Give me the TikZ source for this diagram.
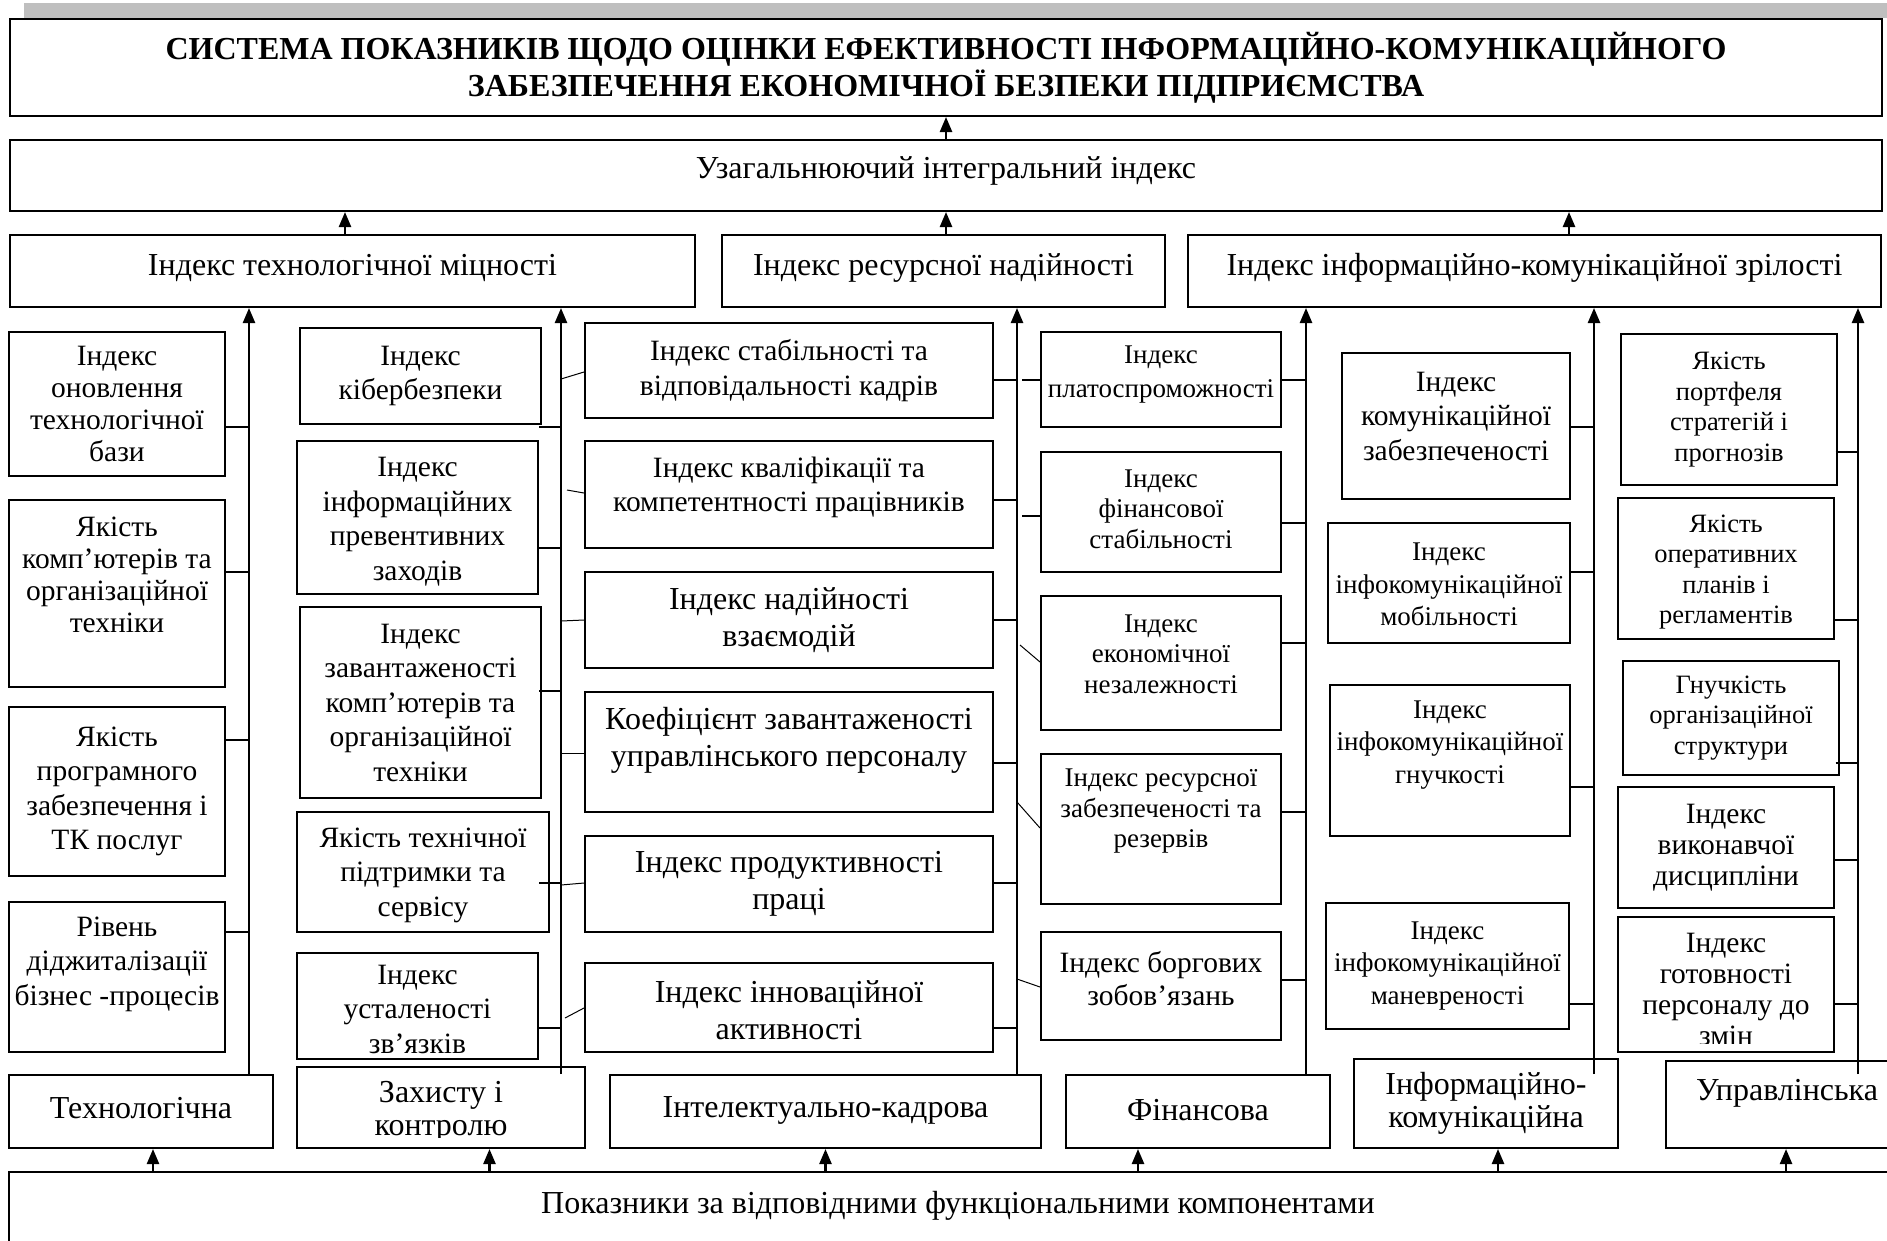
\documentclass[tikz,border=0pt]{standalone}
\usepackage{fontspec}
\setmainfont{Liberation Serif}
\usetikzlibrary{arrows.meta}

\begin{document}
\begin{tikzpicture}[
									x = 1pt,
									y = -1pt,
									box/.style = {
										draw,
										rectangle,
										line width = 2pt,
										inner sep = 0
									},
									tx/.style = {
										align = center,
										inner sep = 0,
										font = \fontsize{29.5}{32}\selectfont
									},
									txw/.style = {
										tx,
										font = \fontsize{29.5}{34.5}\selectfont
									},
									txl/.style = {
										tx,
										font = \fontsize{32}{36.7}\selectfont
									},
									txs/.style = {
										tx,
										font = \fontsize{27}{30.5}\selectfont
									},
									hd/.style = {
										tx,
										font = \bfseries\fontsize{32}{36.7}\selectfont
									},
									ln/.style = {
										line width = 2.4pt
									},
									ar/.style = {
										ln,
										-{Triangle[length = 15pt, width = 12pt]}
									},
									fine/.style = {
										line width = 1pt
									}
								]
							\useasboundingbox (0, 0) rectangle (1887, 1240);
							\clip (0, 0) rectangle (1887, 1240);
							\fill [gray!50] (24, 3) rectangle (1887, 18);

							\coordinate (v1) at ( 249, 0);
							\coordinate (v2) at ( 561, 0);
							\coordinate (v3) at (1017, 0);
							\coordinate (v4) at (1306, 0);
							\coordinate (v5) at (1594, 0);
							\coordinate (v6) at (1858, 0);

							\node [box, minimum width = 1872pt, minimum height = 97pt] (top) at (946, 67.5) {};
							\node [hd] (top-t) at (top) {СИСТЕМА ПОКАЗНИКІВ ЩОДО ОЦІНКИ ЕФЕКТИВНОСТІ ІНФОРМАЦІЙНО-КОМУНІКАЦІЙНОГО\\ЗАБЕЗПЕЧЕННЯ ЕКОНОМІЧНОЇ БЕЗПЕКИ ПІДПРИЄМСТВА};

							\node [box, minimum width = 1872pt, minimum height = 71pt] (r0) at (946, 175.5) {};
							\node [txl] (r0-t) at ([yshift = 4.5pt] r0) {Узагальнюючий інтегральний індекс};

							\node [box, minimum width = 685pt, minimum height = 72pt] (r1) at ( 352.5, 271) {};
							\node [box, minimum width = 443pt, minimum height = 72pt] (r2) at ( 943.5, 271) {};
							\node [box, minimum width = 693pt, minimum height = 72pt] (r3) at (1534.5, 271) {};
							\node [txl] (r1-t) at ([yshift = 3.5pt] r1) {Індекс технологічної міцності};
							\node [txl] (r2-t) at ([yshift = 3.5pt] r2) {Індекс ресурсної надійності};
							\node [txl] (r3-t) at ([yshift = 3.5pt] r3) {Індекс інформаційно-комунікаційної зрілості};

							\node [box, minimum width = 216pt, minimum height = 144pt] (c1a) at (117,  404) {};
							\node [box, minimum width = 216pt, minimum height = 187pt] (c1b) at (117,  593.5) {};
							\node [box, minimum width = 216pt, minimum height = 169pt] (c1c) at (117,  791.5) {};
							\node [box, minimum width = 216pt, minimum height = 150pt] (c1d) at (117,  977) {};
							\node [tx] (c1a-t) at (c1a) {Індекс\\оновлення\\технологічної\\бази};
							\node [tx] (c1b-t) at ([yshift = 19pt] c1b) {Якість\\комп’ютерів та\\організаційної\\техніки};
							\node [txw] (c1c-t) at (c1c) {Якість\\програмного\\забезпечення і\\ТК послуг};
							\node [txw] (c1d-t) at ([yshift = 13pt] c1d) {Рівень\\діджиталізації\\бізнес -процесів};

							\node [box, minimum width = 241pt, minimum height =  96pt] (c2a) at (420.5,  376) {};
							\node [box, minimum width = 241pt, minimum height = 153pt] (c2b) at (417.5,  517.5) {};
							\node [box, minimum width = 241pt, minimum height = 191pt] (c2c) at (420.5,  702.5) {};
							\node [box, minimum width = 252pt, minimum height = 120pt] (c2d) at (423,    872) {};
							\node [box, minimum width = 241pt, minimum height = 106pt] (c2e) at (417.5, 1006) {};
							\node [txw] (c2a-t) at (c2a) {Індекс\\кібербезпеки};
							\node [txw] (c2b-t) at ([yshift = -4pt] c2b) {Індекс\\інформаційних\\превентивних\\заходів};
							\node [txw] (c2c-t) at (c2c) {Індекс\\завантаженості\\комп’ютерів та\\організаційної\\техніки};
							\node [txw] (c2d-t) at ([yshift = -3pt] c2d) {Якість технічної\\підтримки та\\сервісу};
							\node [txw] (c2e-t) at ([yshift = -3pt] c2e) {Індекс\\усталеності\\зв’язків};

							\node [box, minimum width = 408pt, minimum height =  95pt] (c3a) at (789,  370.5) {};
							\node [box, minimum width = 408pt, minimum height = 107pt] (c3b) at (789,  494.5) {};
							\node [box, minimum width = 408pt, minimum height =  96pt] (c3c) at (789,  620) {};
							\node [box, minimum width = 408pt, minimum height = 120pt] (c3d) at (789,  752) {};
							\node [box, minimum width = 408pt, minimum height =  96pt] (c3e) at (789,  884) {};
							\node [box, minimum width = 408pt, minimum height =  89pt] (c3f) at (789, 1007.5) {};
							\node [txw] (c3a-t) at (c3a) {Індекс стабільності та\\відповідальності кадрів};
							\node [txw] (c3b-t) at ([yshift = 7pt] c3b) {Індекс кваліфікації та\\компетентності працівників};
							\node [txl] (c3c-t) at (c3c) {Індекс надійності\\взаємодій};
							\node [txl] (c3d-t) at ([yshift = 12pt] c3d) {Коефіцієнт завантаженості\\управлінського персоналу};
							\node [txl] (c3e-t) at (c3e) {Індекс продуктивності\\праці};
							\node [txl] (c3f-t) at ([yshift = -2.5pt] c3f) {Індекс інноваційної\\активності};

							\node [box, minimum width = 240pt, minimum height =  95pt] (c4a) at (1161, 379.5) {};
							\node [box, minimum width = 240pt, minimum height = 120pt] (c4b) at (1161, 512) {};
							\node [box, minimum width = 240pt, minimum height = 134pt] (c4c) at (1161, 663) {};
							\node [box, minimum width = 240pt, minimum height = 150pt] (c4d) at (1161, 829) {};
							\node [box, minimum width = 240pt, minimum height = 108pt] (c4e) at (1161, 986) {};
							\node [txs, font = \fontsize{27}{34}\selectfont] (c4a-t) at ([yshift = 4.5pt] c4a) {Індекс\\платоспроможності};
							\node [txs] (c4b-t) at ([yshift = 3pt] c4b) {Індекс\\фінансової\\стабільності};
							\node [txs] (c4c-t) at ([yshift = 9pt] c4c) {Індекс\\економічної\\незалежності};
							\node [txs] (c4d-t) at ([yshift = 17.5pt] c4d) {Індекс ресурсної\\забезпеченості та\\резервів};
							\node [tx, font = \fontsize{29.5}{33}\selectfont] (c4e-t) at ([yshift = 7.5pt] c4e) {Індекс боргових\\зобов’язань};

							\node [box, minimum width = 228pt, minimum height = 146pt] (c5a) at (1456,   426) {};
							\node [box, minimum width = 242pt, minimum height = 120pt] (c5b) at (1449,   583) {};
							\node [box, minimum width = 240pt, minimum height = 151pt] (c5c) at (1450,   760.5) {};
							\node [box, minimum width = 243pt, minimum height = 126pt] (c5d) at (1447.5, 966) {};
							\node [txw] (c5a-t) at ([yshift = 10pt] c5a) {Індекс\\комунікаційної\\забезпеченості};
							\node [txs, font = \fontsize{27}{32.5}\selectfont] (c5b-t) at ([yshift = -1.5pt] c5b) {Індекс\\інфокомунікаційної\\мобільності};
							\node [txs, font = \fontsize{27}{32.5}\selectfont] (c5c-t) at ([yshift = 15.5pt] c5c) {Індекс\\інфокомунікаційної\\гнучкості};
							\node [txs, font = \fontsize{27}{32.5}\selectfont] (c5d-t) at (c5d) {Індекс\\інфокомунікаційної\\маневреності};

							\node [box, minimum width = 216pt, minimum height = 151pt] (c6a) at (1729,  409.5) {};
							\node [box, minimum width = 216pt, minimum height = 141pt] (c6b) at (1726,  568.5) {};
							\node [box, minimum width = 216pt, minimum height = 114pt] (c6c) at (1731,  718) {};
							\node [box, minimum width = 216pt, minimum height = 121pt] (c6d) at (1726,  847.5) {};
							\node [box, minimum width = 216pt, minimum height = 135pt] (c6e) at (1726,  984.5) {};
							\node [txs, font = \fontsize{26.5}{30.5}\selectfont] (c6a-t) at (c6a) {Якість\\портфеля\\стратегій і\\прогнозів};
							\node [txs, font = \fontsize{26.5}{30.5}\selectfont] (c6b-t) at ([yshift = -3.5pt] c6b) {Якість\\оперативних\\планів і\\регламентів};
							\node [txs, font = \fontsize{26.5}{30.5}\selectfont] (c6c-t) at (c6c) {Гнучкість\\організаційної\\структури};
							\node [tx, font = \fontsize{29.5}{31}\selectfont] (c6d-t) at (c6d) {Індекс\\виконавчої\\дисципліни};
							\begin{scope}
								\clip (c6e.north west) rectangle ([yshift = 10pt] c6e.south east);
								\node [tx, font = \fontsize{29.5}{31}\selectfont] (c6e-t) at ([yshift = -4.5pt] c6e) {Індекс\\готовності\\персоналу до\\змін};
							\end{scope}

							\node [box, minimum width = 264pt, minimum height = 73pt] (k1) at ( 141,   1111.5) {};
							\node [box, minimum width = 288pt, minimum height = 81pt] (k2) at ( 441,   1107.5) {};
							\node [box, minimum width = 431pt, minimum height = 73pt] (k3) at ( 825.5, 1111.5) {};
							\node [box, minimum width = 264pt, minimum height = 73pt] (k4) at (1198,   1111.5) {};
							\node [box, minimum width = 264pt, minimum height = 89pt] (k5) at (1486,   1103.5) {};
							\node [box, minimum width = 242pt, minimum height = 87pt] (k6) at (1787,   1104.5) {};
							\node [txl] (k1-t) at ([yshift = 3.5pt] k1) {Технологічна};
							\begin{scope}
								\clip (k2.north west) rectangle ([yshift = 12pt] k2.south east);
								\node [txl, font = \fontsize{32}{33}\selectfont] (k2-t) at ([yshift = -4pt] k2) {Захисту і\\контролю};
							\end{scope}
							\node [txl] (k3-t) at ([yshift = 1.5pt] k3) {Інтелектуально-кадрова};
							\node [txl] (k4-t) at ([yshift = 1.5pt] k4) {Фінансова};
							\node [txl, font = \fontsize{32}{32.5}\selectfont] (k5-t) at (k5) {Інформаційно-\\комунікаційна};
							\node [txl] (k6-t) at ([yshift = 11.5pt] k6) {Управлінська};

							\node [box, minimum width = 1898pt, minimum height = 90pt] (b0) at (958, 1217) {};
							\node [txl] (b0-t) at ([yshift = 11pt] b0) {Показники за відповідними функціональними компонентами};

							\draw [ar] (r0.north) -- (r0.north |- top.south);
							\draw [ar] ([xshift = -7.5pt] r1.north) -- ([xshift = -7.5pt] r1.north |- r0.south);
							\draw [ar] ([xshift = 2.5pt] r2.north) -- ([xshift = 2.5pt] r2.north |- r0.south);
							\draw [ar] ([xshift = 34.5pt] r3.north) -- ([xshift = 34.5pt] r3.north |- r0.south);

							\draw [ar] (v1 |- k1.north) -- (v1 |- r1.south);
							\draw [ar] (v2 |- k1.north) -- (v2 |- r1.south);
							\draw [ar] (v3 |- k1.north) -- (v3 |- r2.south);
							\draw [ar] (v4 |- k1.north) -- (v4 |- r3.south);
							\draw [ar] (v5 |- k1.north) -- (v5 |- r3.south);
							\draw [ar] (v6 |- k1.north) -- (v6 |- r3.south);

							\draw [ar] ([xshift = 12pt] k1.south |- b0.north) -- ([xshift = 12pt] k1.south);
							\draw [ar] ([xshift = 48.5pt] k2.south |- b0.north) -- ([xshift = 48.5pt] k2.south);
							\draw [ar] (k3.south |- b0.north) -- (k3.south);
							\draw [ar] ([xshift = -60pt] k4.south |- b0.north) -- ([xshift = -60pt] k4.south);
							\draw [ar] ([xshift = 12pt] k5.south |- b0.north) -- ([xshift = 12pt] k5.south);
							\draw [ar] ([xshift = -1pt] k6.south |- b0.north) -- ([xshift = -1pt] k6.south);

							\draw [ln] (c1a.east |- 0,  427) -- (v1 |- 0,  427);
							\draw [ln] (c1b.east |- 0,  572) -- (v1 |- 0,  572);
							\draw [ln] (c1c.east |- 0,  740) -- (v1 |- 0,  740);
							\draw [ln] (c1d.east |- 0,  932) -- (v1 |- 0,  932);

							\draw [ln] ([xshift = -3pt] c2a.east |- 0,  427) -- (v2 |- 0,  427);
							\draw [ln] (c2b.east |- 0,  548) -- (v2 |- 0,  548);
							\draw [ln] ([xshift = -3pt] c2c.east |- 0,  691) -- (v2 |- 0,  691);
							\draw [ln] ([xshift = -11pt] c2d.east |- 0,  883) -- (v2 |- 0,  883);
							\draw [ln] (c2e.east |- 0, 1028) -- (v2 |- 0, 1028);

							\draw [ln] (c3a.east |- 0,  380) -- (v3 |- 0,  380);
							\draw [ln] (c3b.east |- 0,  500) -- (v3 |- 0,  500);
							\draw [ln] (c3c.east |- 0,  620) -- (v3 |- 0,  620);
							\draw [ln] (c3d.east |- 0,  763) -- (v3 |- 0,  763);
							\draw [ln] (c3e.east |- 0,  883) -- (v3 |- 0,  883);
							\draw [ln] (c3f.east |- 0, 1028) -- (v3 |- 0, 1028);

							\draw [ln] (c4a.east |- 0,  380) -- (v4 |- 0,  380);
							\draw [ln] (c4b.east |- 0,  523) -- (v4 |- 0,  523);
							\draw [ln] (c4c.east |- 0,  643) -- (v4 |- 0,  643);
							\draw [ln] (c4d.east |- 0,  812) -- (v4 |- 0,  812);
							\draw [ln] (c4e.east |- 0,  980) -- (v4 |- 0,  980);
							\draw [ln] ([xshift = -18pt] c4a.west |- 0, 380) -- (c4a.west |- 0, 380);
							\draw [ln] ([xshift = -18pt] c4b.west |- 0, 516) -- (c4b.west |- 0, 516);

							\draw [ln] (c5a.east |- 0,  427) -- (v5 |- 0,  427);
							\draw [ln] (c5b.east |- 0,  572) -- (v5 |- 0,  572);
							\draw [ln] (c5c.east |- 0,  787) -- (v5 |- 0,  787);
							\draw [ln] (c5d.east |- 0, 1004) -- (v5 |- 0, 1004);

							\draw [ln] ([xshift = -2.5pt] c6a.east |- 0,  452) -- (v6 |- 0,  452);
							\draw [ln] (c6b.east |- 0,  620) -- (v6 |- 0,  620);
							\draw [ln] ([xshift = -4.5pt] c6c.east |- 0,  763) -- (v6 |- 0,  763);
							\draw [ln] (c6d.east |- 0,  860) -- (v6 |- 0,  860);
							\draw [ln] (c6e.east |- 0, 1004) -- (v6 |- 0, 1004);

							\draw [fine] (v2 |- 0,  379) -- (c3a.west |- 0,  372);
							\draw [fine] ([xshift = 6pt] v2 |- 0,  490) -- (c3b.west |- 0,  493);
							\draw [fine] (v2 |- 0,  621) -- (c3c.west |- 0,  620);
							\draw [fine] (v2 |- 0,  753) -- (c3d.west |- 0,  753);
							\draw [fine] (v2 |- 0,  885) -- (c3e.west |- 0,  883);
							\draw [fine] ([xshift = 4pt] v2 |- 0, 1018) -- (c3f.west |- 0, 1008);
							\draw [fine] ([xshift = 3pt] v3 |- 0,  645) -- (c4c.west |- 0,  662);
							\draw [fine] (v3 |- 0,  802) -- (c4d.west |- 0,  828);
							\draw [fine] (v3 |- 0,  979) -- (c4e.west |- 0,  987);
						\end{tikzpicture}
\end{document}
